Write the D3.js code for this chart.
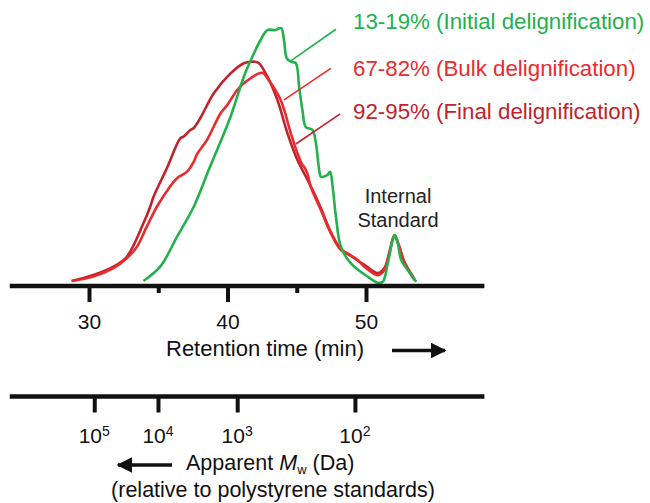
<!DOCTYPE html>
<html>
<head>
<meta charset="utf-8">
<script src="https://cdn.jsdelivr.net/npm/d3@7"></script>
<style>
  html, body { margin: 0; padding: 0; background: #fff; }
  svg { display: block; }
  text { font-family: "Liberation Sans", Arial, sans-serif; }
</style>
</head>
<body>
<script>
// ---------- DATA ----------
// Retention time (min) and relative intensity (%)
const greenRT = [33.93,35.14,36.36,37.56,38.64,39.25,40.22,41.18,41.79,42.39,42.88,43.48,43.72,43.89,44.08,44.28,44.57,44.93,45.17,45.41,45.65,46.14,46.38,46.62,46.74,47.22,47.41,47.59,47.83,48.19,48.91,50.12,50.85,51.21,51.57,51.93,52.10,52.30,52.54,53.02,53.62];
const greenI  = [0.8,6.4,18.2,29.9,44.3,52.2,65.2,80.9,88.7,95.3,99.2,99.2,99.9,99.9,95.3,88.1,86.8,86.2,77.0,67.8,61.2,60.0,54.9,44.3,41.7,42.4,43.6,37.8,26.0,14.2,7.7,2.5,0.1,0.5,7.7,16.9,18.8,15.6,9.0,5.1,0.5];

const bulkRT = [28.75,30.31,31.76,32.73,33.46,34.17,34.90,35.63,36.35,37.07,37.56,37.80,38.52,39.49,39.98,40.70,41.18,41.67,42.27,42.54,42.88,43.84,44.57,45.05,45.41,45.53,45.78,46.01,46.74,47.46,48.19,48.67,49.40,49.88,50.85,51.33,51.69,52.05,52.41,52.78,53.50];
const bulkI  = [0.8,2.5,5.8,9.7,14.2,22.1,29.9,36.1,41.1,43.6,47.5,50.5,56.1,66.5,69.8,75.7,78.3,80.3,82.2,82.4,80.3,71.8,58.7,50.9,46.3,45.6,42.7,37.8,28.6,19.5,12.9,11.6,9.0,6.4,3.1,5.1,11.6,18.8,14.2,7.7,1.2];

const finalRT = [28.75,30.31,31.76,32.73,33.93,34.42,34.66,35.63,36.59,36.83,37.32,37.56,38.04,39.01,40.22,41.18,41.67,41.91,42.25,42.88,43.60,44.33,45.05,45.78,46.26,46.74,47.46,48.19,48.91,49.88,50.85,51.33,51.69,52.05,52.41,52.78,53.50];
const finalI  = [0.8,3.1,6.4,10.3,23.4,29.9,33.8,45.1,56.7,57.4,60.0,60.8,64.7,74.4,82.2,86.2,86.7,86.8,86.3,80.9,71.8,58.7,48.2,40.4,35.2,29.4,20.0,13.3,10.6,7.1,3.9,5.9,12.2,18.4,14.1,8.2,1.6];

const seriesNames = ["13-19% (Initial delignification)", "67-82% (Bulk delignification)", "92-95% (Final delignification)"];
const seriesColors = ["#22b14c", "#ec2a2c", "#c0232b"];

// leader lines: [RT on curve, I on curve, RT at label, I at label]
const leaderGreen = [44.57, 87.1, 47.83, 99.5];
const leaderBulk  = [44.08, 71.8, 47.46, 84.2];
const leaderFinal = [44.93, 54.5, 48.14, 66.3];

// axes
const rtMajorTicks = [30, 40, 50];
const rtMinorTicks = [35, 45];
const axisExtentRT = [24.28, 58.55];
const mwTickRT  = [30.38, 34.98, 40.70, 49.20];
const mwTickExp = ["5", "4", "3", "2"];

// ---------- DRAW ----------
const W = 650, H = 503;
const svg = d3.select("body").append("svg").attr("width", W).attr("height", H);

const x = d3.scaleLinear().domain([30, 50]).range([89, 366]);
const y = d3.scaleLinear().domain([0, 100]).range([283, 28]);

const line = d3.line().x(d => x(d[0])).y(d => y(d[1])).curve(d3.curveCatmullRom.alpha(0.5));

const series = [
  { rt: finalRT, v: finalI, color: seriesColors[2] },
  { rt: bulkRT,  v: bulkI,  color: seriesColors[1] },
  { rt: greenRT, v: greenI, color: seriesColors[0] }
];
series.forEach(s => {
  svg.append("path")
    .datum(s.rt.map((r, i) => [r, s.v[i]]))
    .attr("d", line)
    .attr("fill", "none")
    .attr("stroke", s.color)
    .attr("stroke-width", 2.6)
    .attr("stroke-linejoin", "round");
});

// leader lines
[[leaderGreen, seriesColors[0]], [leaderBulk, seriesColors[1]], [leaderFinal, seriesColors[2]]].forEach(([l, c]) => {
  svg.append("line")
    .attr("x1", x(l[0])).attr("y1", y(l[1]))
    .attr("x2", x(l[2])).attr("y2", y(l[3]))
    .attr("stroke", c).attr("stroke-width", 1.6);
});

// legend texts
const legendY = [29, 76, 119];
seriesNames.forEach((n, i) => {
  svg.append("text").attr("x", 353).attr("y", legendY[i])
    .attr("fill", seriesColors[i]).attr("font-size", 22.3).text(n);
});

// Internal standard label
svg.append("text").attr("x", 398).attr("y", 203).attr("text-anchor", "middle")
  .attr("font-size", 20).attr("fill", "#222").text("Internal");
svg.append("text").attr("x", 398).attr("y", 227).attr("text-anchor", "middle")
  .attr("font-size", 20).attr("fill", "#222").text("Standard");

const axisColor = "#111";

// ---- top axis (retention time)
const topY = 286;
const topAxis = svg.append("g").attr("transform", `translate(0,${topY})`);
topAxis.call(d3.axisBottom(x).tickValues(rtMajorTicks).tickSize(16).tickSizeOuter(0).tickFormat(d3.format("d")));
topAxis.select(".domain").remove();
topAxis.selectAll(".tick line").attr("stroke", axisColor).attr("stroke-width", 4);
topAxis.selectAll(".tick text").attr("font-size", 21).attr("fill", axisColor)
  .attr("font-family", "Liberation Sans, Arial, sans-serif").attr("dy", 0).attr("y", 43);
const topMinor = svg.append("g").attr("transform", `translate(0,${topY})`);
topMinor.call(d3.axisBottom(x).tickValues(rtMinorTicks).tickSize(7).tickSizeOuter(0).tickFormat(""));
topMinor.select(".domain").remove();
topMinor.selectAll(".tick line").attr("stroke", axisColor).attr("stroke-width", 4);
svg.append("line").attr("x1", x(axisExtentRT[0])).attr("x2", x(axisExtentRT[1]))
  .attr("y1", topY).attr("y2", topY).attr("stroke", axisColor).attr("stroke-width", 4.5);

// title + arrow
svg.append("text").attr("x", 166).attr("y", 356).attr("font-size", 22).attr("fill", axisColor)
  .text("Retention time (min)");

const defs = svg.append("defs");
defs.append("marker").attr("id", "ah").attr("viewBox", "0 0 10 10")
  .attr("refX", 9).attr("refY", 5).attr("markerWidth", 4.4).attr("markerHeight", 4.4)
  .attr("markerUnits", "strokeWidth").attr("orient", "auto-start-reverse")
  .append("path").attr("d", "M0,0 L10,5 L0,10 z").attr("fill", axisColor);

svg.append("line").attr("x1", 392).attr("x2", 445).attr("y1", 350.5).attr("y2", 350.5)
  .attr("stroke", axisColor).attr("stroke-width", 3.6).attr("marker-end", "url(#ah)");

// ---- bottom axis (apparent Mw)
const botY = 396.5;
const botAxis = svg.append("g").attr("transform", `translate(0,${botY})`);
botAxis.call(d3.axisBottom(x).tickValues(mwTickRT).tickSize(16).tickSizeOuter(0).tickFormat(""));
botAxis.select(".domain").remove();
botAxis.selectAll(".tick line").attr("stroke", axisColor).attr("stroke-width", 4);
svg.append("line").attr("x1", x(axisExtentRT[0])).attr("x2", x(axisExtentRT[1]))
  .attr("y1", botY).attr("y2", botY).attr("stroke", axisColor).attr("stroke-width", 4.5);

const mwLabels = svg.append("g");
mwTickRT.forEach((r, i) => {
  const t = mwLabels.append("text").attr("x", x(r)).attr("y", 443)
    .attr("text-anchor", "middle").attr("font-size", 21).attr("fill", axisColor);
  t.append("tspan").text("10");
  t.append("tspan").attr("font-size", 14).attr("dy", -7).text(mwTickExp[i]);
});

svg.append("line").attr("x1", 172).attr("x2", 118).attr("y1", 465).attr("y2", 465)
  .attr("stroke", axisColor).attr("stroke-width", 3.6).attr("marker-end", "url(#ah)");

const mwTitle = svg.append("text").attr("x", 186).attr("y", 470).attr("font-size", 21.5).attr("fill", axisColor);
mwTitle.append("tspan").text("Apparent ");
mwTitle.append("tspan").attr("font-style", "italic").text("M");
mwTitle.append("tspan").attr("font-size", 13).attr("dy", 4).text("w");
mwTitle.append("tspan").attr("dy", -4).text(" (Da)");

svg.append("text").attr("x", 273).attr("y", 497).attr("text-anchor", "middle")
  .attr("font-size", 21.5).attr("fill", axisColor).text("(relative to polystyrene standards)");
</script>
</body>
</html>
